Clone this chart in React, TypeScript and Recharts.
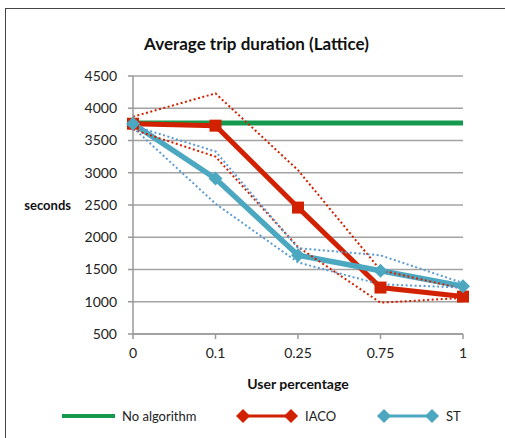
import React from 'react';
import { LineChart, Line, XAxis, YAxis, CartesianGrid } from 'recharts';

// --- Chart data ---
const userPercentages = ['0', '0.1', '0.25', '0.75', '1'];
const noAlgorithm = [3770, 3770, 3770, 3770, 3770];
const iaco = [3760, 3730, 2460, 1220, 1080];
const st = [3760, 2910, 1720, 1480, 1240];
const iacoUpper = [3870, 4230, 3040, 1490, 1200];
const iacoLower = [3670, 3250, 1850, 985, 1060];
const stUpper = [3730, 3330, 1830, 1720, 1290];
const stLower = [3700, 2520, 1610, 1270, 1220];
const yTicks = [500, 1000, 1500, 2000, 2500, 3000, 3500, 4000, 4500];

const chartData = userPercentages.map((p, i) => ({
  p,
  noAlgorithm: noAlgorithm[i],
  iaco: iaco[i],
  st: st[i],
  iacoUpper: iacoUpper[i],
  iacoLower: iacoLower[i],
  stUpper: stUpper[i],
  stLower: stLower[i],
}));

const GREEN = '#14994f';
const RED = '#d22100';
const BLUE = '#4ba8c0';
const BLUE_DOT = '#5b9bd5';
const FONT = 'Lato, "Open Sans", sans-serif';

const SquareDot = (props: any) => {
  const { cx, cy, index } = props;
  if (cx == null || cy == null) return null;
  return <rect key={`sq-${index}`} x={cx - 6} y={cy - 6} width={12} height={12} fill={RED} />;
};

const DiamondDot = (props: any) => {
  const { cx, cy, index } = props;
  if (cx == null || cy == null) return null;
  const r = 7;
  return (
    <path
      key={`dm-${index}`}
      d={`M${cx},${cy - r}L${cx + r},${cy}L${cx},${cy + r}L${cx - r},${cy}Z`}
      fill={BLUE}
    />
  );
};

const legendItems = [
  { name: 'No algorithm', color: GREEN, marker: false, left: 62 },
  { name: 'IACO', color: RED, marker: true, left: 236 },
  { name: 'ST', color: BLUE, marker: true, left: 377 },
];

const ChartLegend = () => (
  <div style={{ position: 'absolute', left: 0, top: 406, width: 505, height: 20 }}>
    {legendItems.map((item) => (
      <div key={item.name} style={{ position: 'absolute', left: item.left, top: 0, display: 'flex', alignItems: 'center' }}>
        <svg width={62} height={20}>
          <line x1={item.marker ? 6 : 0} y1={10} x2={item.marker ? 56 : 53} y2={10} stroke={item.color} strokeWidth={item.marker ? 3 : 4} />
          {item.marker && (
            <>
              <path d="M0,10L7,3L14,10L7,17Z" fill={item.color} />
              <path d="M48,10L55,3L62,10L55,17Z" fill={item.color} />
            </>
          )}
        </svg>
        <span style={{ marginLeft: item.marker ? 7 : -2, fontSize: 13, fontFamily: FONT, color: '#222' }}>{item.name}</span>
      </div>
    ))}
  </div>
);

export default function App() {
  return (
    <div style={{ position: 'absolute', left: 0, top: 0, width: 505, height: 438, background: '#fff', overflow: 'hidden' }}>
      <div style={{ position: 'absolute', left: 5, top: 8, width: 520, height: 460, border: '1px solid #444' }} />
      <div
        style={{
          position: 'absolute', left: 4, top: 33, width: 505, textAlign: 'center',
          fontFamily: FONT, fontWeight: 'bold', fontSize: 17, color: '#111',
        }}
      >
        Average trip duration (Lattice)
      </div>
      <div style={{ position: 'absolute', left: 0, top: 0 }}>
        <LineChart width={505} height={438} data={chartData} margin={{ top: 76, right: 42, left: 73, bottom: 44 }}>
          <CartesianGrid vertical={false} stroke="#a3a3a3" strokeWidth={1.5} />
          <XAxis
            dataKey="p"
            height={60}
            tickSize={5}
            tickMargin={9}
            stroke="#999"
            strokeWidth={1.5}
            tick={{ fill: '#222', fontSize: 14, fontFamily: FONT }}
            label={{ value: 'User percentage', position: 'insideBottom', offset: 5, fill: '#111', fontSize: 14, fontWeight: 'bold', fontFamily: FONT }}
          />
          <YAxis
            width={60}
            domain={[500, 4500]}
            ticks={yTicks}
            interval={0}
            tickSize={5}
            tickMargin={11}
            stroke="#999"
            strokeWidth={1.5}
            tick={{ fill: '#222', fontSize: 14, fontFamily: FONT }}
            label={{ value: 'seconds', position: 'left', offset: 2, angle: 0, fill: '#111', fontSize: 13, fontWeight: 'bold', fontFamily: FONT }}
          />
          <Line dataKey="noAlgorithm" stroke={GREEN} strokeWidth={5} dot={false} isAnimationActive={false} />
          <Line dataKey="iaco" stroke={RED} strokeWidth={5} dot={SquareDot} isAnimationActive={false} />
          <Line dataKey="st" stroke={BLUE} strokeWidth={5.5} dot={DiamondDot} isAnimationActive={false} />
          <Line dataKey="iacoUpper" stroke={RED} strokeWidth={2} strokeDasharray="2 2.5" dot={false} isAnimationActive={false} />
          <Line dataKey="iacoLower" stroke={RED} strokeWidth={2} strokeDasharray="2 2.5" dot={false} isAnimationActive={false} />
          <Line dataKey="stUpper" stroke={BLUE_DOT} strokeWidth={2} strokeDasharray="2 2.5" dot={false} isAnimationActive={false} />
          <Line dataKey="stLower" stroke={BLUE_DOT} strokeWidth={2} strokeDasharray="2 2.5" dot={false} isAnimationActive={false} />
        </LineChart>
      </div>
      <ChartLegend />
    </div>
  );
}
